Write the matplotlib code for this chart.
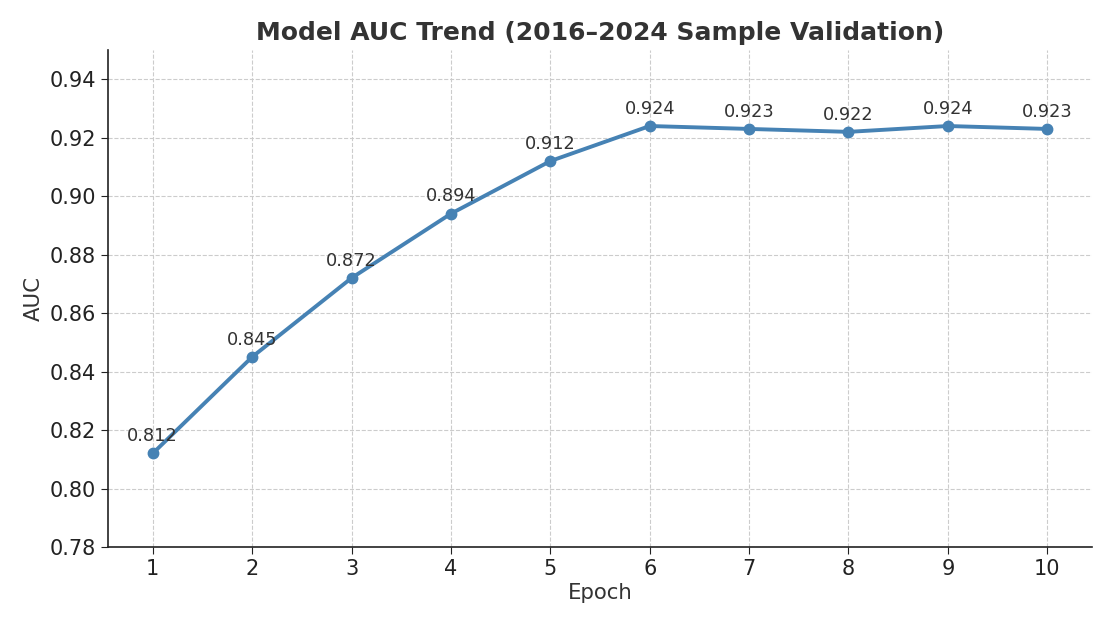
import matplotlib
matplotlib.use("Agg")
import matplotlib.pyplot as plt

epochs = [1, 2, 3, 4, 5, 6, 7, 8, 9, 10]
auc = [0.812, 0.845, 0.872, 0.894, 0.912, 0.924, 0.923, 0.922, 0.924, 0.923]
yticks = [0.78, 0.80, 0.82, 0.84, 0.86, 0.88, 0.90, 0.92, 0.94]

plt.rcParams['font.family'] = ['DejaVu Sans']
fig = plt.figure(figsize=(11.13, 6.26), dpi=100)
ax = fig.add_axes([108/1113, 1-547/626, (1092-108)/1113, (547-50)/626])

ax.plot(epochs, auc, color='#4682b4', linewidth=2.8, marker='o', markersize=7.5)
for x, y in zip(epochs, auc):
    ax.annotate(f"{y:.3f}", (x, y), xytext=(0, 6), textcoords='offset points',
                ha='center', va='bottom', fontsize=12.8, color='#333333')

ax.set_xlim(0.55, 10.45)
ax.set_ylim(0.78, 0.95)
ax.set_xticks(epochs)
ax.set_yticks(yticks)
ax.set_yticklabels([f"{v:.2f}" for v in yticks])
ax.tick_params(labelsize=15, colors='#222222', length=5)
ax.grid(True, linestyle='--', color='#cccccc', linewidth=0.8)
ax.set_axisbelow(True)
for s in ['top', 'right']:
    ax.spines[s].set_visible(False)
for s in ['left', 'bottom']:
    ax.spines[s].set_color('#222222')
    ax.spines[s].set_linewidth(1.2)

ax.set_xlabel("Epoch", fontsize=15.3, color='#333333', labelpad=3)
ax.set_ylabel("AUC", fontsize=15.3, color='#333333')
ax.set_title("Model AUC Trend (2016\u20132024 Sample Validation)", fontsize=18,
             fontweight='bold', color='#333333', pad=7.5)

fig.savefig("out.png", dpi=100)
